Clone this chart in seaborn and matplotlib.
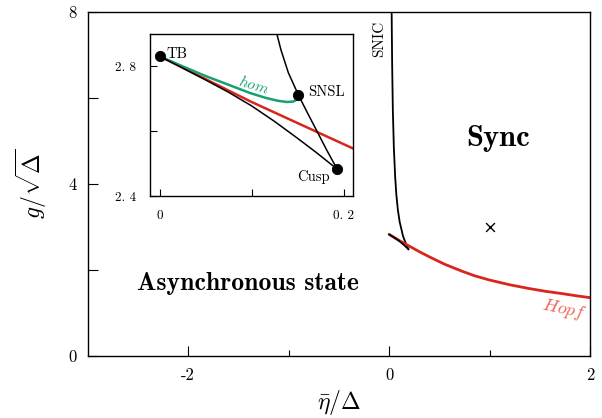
import matplotlib
matplotlib.use("Agg")
import matplotlib.pyplot as plt
import seaborn as sns

# curves (x = eta/Delta, y = g/sqrt(Delta))
snic_x = [0.025, 0.030, 0.037, 0.047, 0.060, 0.072, 0.087, 0.105, 0.127,
          0.132, 0.140, 0.151, 0.161, 0.172, 0.182, 0.193]
snic_y = [8.00, 6.80, 5.72, 4.85, 4.17, 3.75, 3.40, 3.12, 2.905,
          2.850, 2.780, 2.711, 2.655, 2.595, 2.540, 2.483]

fold_x = [0.0, 0.025, 0.05, 0.075, 0.10, 0.125, 0.15, 0.17, 0.193]
fold_y = [2.831, 2.795, 2.758, 2.720, 2.678, 2.630, 2.578, 2.535, 2.483]

hopf_x = [0.0, 0.10, 0.21, 0.30, 0.40, 0.55, 0.72, 0.85, 1.00, 1.20,
          1.39, 1.55, 1.72, 1.86, 2.00]
hopf_y = [2.831, 2.690, 2.547, 2.430, 2.310, 2.140, 1.980, 1.870, 1.770, 1.660,
          1.574, 1.510, 1.455, 1.405, 1.360]

hom_x = [0.0, 0.025, 0.05, 0.075, 0.098, 0.115, 0.128, 0.138, 0.145, 0.149, 0.151]
hom_y = [2.831, 2.800, 2.770, 2.743, 2.718, 2.703, 2.694, 2.690, 2.691, 2.697, 2.711]

pts_name = ["TB", "SNSL", "Cusp"]
pts_x = [0.0, 0.151, 0.193]
pts_y = [2.831, 2.711, 2.483]

sim_x = [1.0]
sim_y = [3.0]

RED = "#d8261c"
GREEN = "#18a070"
HOPF_TXT = "#f06050"

sns.set_theme(style="ticks")
plt.rcParams["font.family"] = "cmr10"
plt.rcParams["mathtext.fontset"] = "cm"
plt.rcParams["axes.unicode_minus"] = False
plt.rcParams["axes.formatter.use_mathtext"] = False
for k in ["text.color", "axes.labelcolor", "xtick.color", "ytick.color", "axes.edgecolor"]:
    plt.rcParams[k] = "black"

fig = plt.figure(figsize=(6.02, 4.18), dpi=100)
ax = fig.add_axes([0.146, 0.148, 0.834, 0.823])

sns.lineplot(x=snic_x, y=snic_y, sort=False, estimator=None, color="black", lw=1.3, ax=ax)
sns.lineplot(x=hopf_x, y=hopf_y, sort=False, estimator=None, color=RED, lw=2.0, ax=ax)
sns.lineplot(x=fold_x, y=fold_y, sort=False, estimator=None, color="black", lw=1.3, ax=ax)
sns.scatterplot(x=sim_x, y=sim_y, marker="x", color="black", s=40, linewidth=1.0, ax=ax)

ax.set_xlim(-3, 2)
ax.set_ylim(0, 8)
ax.set_xticks([-2, 0, 2])
ax.set_xticks([-1, 1], minor=True)
ax.set_yticks([0, 4, 8])
ax.set_yticks([2, 6], minor=True)
ax.tick_params(direction="in", length=7, width=0.8, labelsize=12, pad=8)
ax.tick_params(which="minor", direction="in", length=4, width=0.8)
ax.tick_params(axis="y", which="minor", length=7)
for s in ax.spines.values():
    s.set_linewidth(1.0)
ax.set_xlabel(r"$\bar{\eta}/\Delta$", fontsize=17, labelpad=4)
ax.set_ylabel(r"$g/\sqrt{\Delta}$", fontsize=17, labelpad=14)

ax.text(1.09, 5.07, "Sync", family="cmb10", fontsize=22, ha="center", va="center")
ax.text(-1.41, 1.7, "Asynchronous state", family="cmb10", fontsize=18.5, ha="center", va="center")
ax.text(-0.1, 7.37, "SNIC", fontsize=11, rotation=90, ha="center", va="center")
ax.text(1.74, 1.07, r"$Hopf$", fontsize=13, rotation=-12, color=HOPF_TXT, ha="center", va="center")

# inset zoom near the Takens-Bogdanov point
ins = fig.add_axes([0.249, 0.531, 0.337, 0.388])
sns.lineplot(x=hopf_x, y=hopf_y, sort=False, estimator=None, color=RED, lw=1.8, ax=ins)
sns.lineplot(x=hom_x, y=hom_y, sort=False, estimator=None, color=GREEN, lw=1.8, ax=ins)
sns.lineplot(x=fold_x, y=fold_y, sort=False, estimator=None, color="black", lw=1.1, ax=ins)
sns.lineplot(x=snic_x, y=snic_y, sort=False, estimator=None, color="black", lw=1.1, ax=ins)
sns.scatterplot(x=pts_x, y=pts_y, color="black", s=55, edgecolor="black", zorder=5, ax=ins)

ins.set_xlim(-0.0105, 0.21)
ins.set_ylim(2.4, 2.9)
ins.set_xticks([0, 0.2])
ins.set_xticklabels(["0", "0. 2"])
ins.set_xticks([0.1], minor=True)
ins.set_yticks([2.4, 2.8])
ins.set_yticklabels(["2. 4", "2. 8"])
ins.set_yticks([2.6], minor=True)
ins.tick_params(direction="in", length=5, width=0.8, labelsize=9.5, pad=10)
ins.tick_params(which="minor", direction="in", length=5, width=0.8)
for s in ins.spines.values():
    s.set_linewidth(1.0)

ins.text(0.007, 2.838, "TB", fontsize=10.5, ha="left", va="center")
ins.text(0.162, 2.719, "SNSL", fontsize=10.5, ha="left", va="center")
ins.text(0.185, 2.46, "Cusp", fontsize=10.5, ha="right", va="center")
ins.text(0.103, 2.742, r"$hom$", fontsize=11, rotation=-17, color=GREEN, ha="center", va="center")

fig.savefig("out.png", dpi=100)
